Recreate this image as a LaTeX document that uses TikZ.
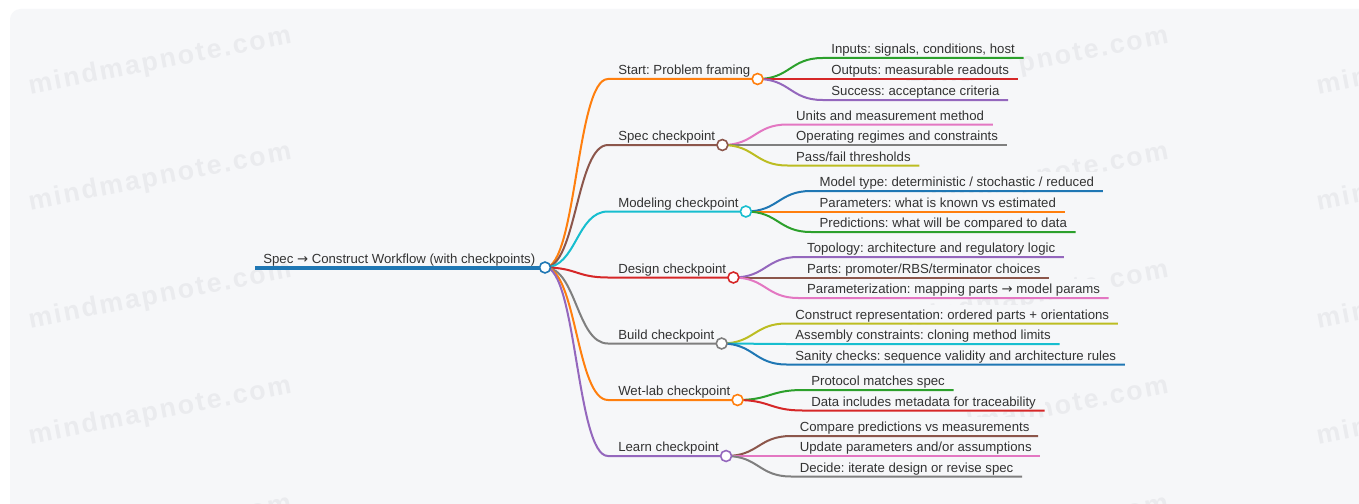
\documentclass[tikz,border=0pt]{standalone}
\usepackage{fontspec}
\setmainfont{Liberation Sans}
\newfontfamily\arrowfont{DejaVu Sans}
\newfontfamily\wmfont[LetterSpace=8]{Liberation Sans Bold}
\usetikzlibrary{calc}
\definecolor{cblue}{HTML}{1F77B4}
\definecolor{corange}{HTML}{FF7F0E}
\definecolor{cgreen}{HTML}{2CA02C}
\definecolor{cred}{HTML}{D62728}
\definecolor{cpurple}{HTML}{9467BD}
\definecolor{cbrown}{HTML}{8C564B}
\definecolor{cpink}{HTML}{E377C2}
\definecolor{cgray}{HTML}{7F7F7F}
\definecolor{colive}{HTML}{BCBD22}
\definecolor{ccyan}{HTML}{17BECF}
\definecolor{txt}{HTML}{333333}
\definecolor{bgc}{HTML}{F6F7F9}
\definecolor{wmc}{HTML}{EAEBEE}
\newcommand\RArr{{\arrowfont →}}
\pgfdeclarelayer{wmlayer}
\pgfdeclarelayer{boxlayer}
\pgfsetlayers{wmlayer,boxlayer,main}
\newcommand\LevelOne[4]{%
  \node[lbl] (#1) at (618,#2-4.5) {#4};
  \coordinate (#1-s) at (608,#2);
  \path (#1.east |- #1-s) ++(7,0) coordinate (#1-c);
  \draw[branch,#3] (root-c) .. controls (576.5,267.5) and (576.5,#2) .. (#1-s) -- (#1-c);
}
\newcommand\LevelTwo[5]{%
  \path (#1-c) ++(65,0) coordinate (#2-t);
  \coordinate (#2-s) at (#2-t |- 0,#3);
  \path (#1-c) ++(32.5,0) coordinate (#2-m1);
  \coordinate (#2-m2) at (#2-m1 |- #2-s);
  \path (#2-s) ++(8.5,-4.5) node[lbl] (#2) {#5};
  \path (#2.east |- #2-s) ++(8.5,0) coordinate (#2-e);
  \begin{pgfonlayer}{boxlayer}
    \fill[bgc] (#2-s) ++(0,-19) rectangle (#2-e);
  \end{pgfonlayer}
  \draw[branch,#4] (#1-c) .. controls (#2-m1) and (#2-m2) .. (#2-s) -- (#2-e);
}
\begin{document}
\begin{tikzpicture}[x=0.75pt,y=-0.75pt,
  lbl/.style={anchor=base west,inner sep=0pt,text=txt,font=\fontsize{9.9}{11}\selectfont\frenchspacing},
  branch/.style={line width=1.5pt},
  dotc/.style={circle,fill=white,line width=1.2pt,minimum size=8.2pt,inner sep=0pt},
  wm/.style={text=wmc,rotate=11,font=\wmfont\fontsize{20}{20}\selectfont,inner sep=0pt}]
\useasboundingbox (0,0) rectangle (1359,503);
\begin{pgfonlayer}{wmlayer}
\fill[white] (0,0) rectangle (1359,503);
\fill[bgc,rounded corners=8pt] (10,9) rectangle (1380,530);
\foreach \yy [count=\i] in {62,178,296,412,530}{
  \node[wm] (wmA\i) at (160,\yy) {mindmapnote.com};
  \node[wm] (wmB\i) at (1037,\yy) {mindmapnote.com};
  \node[wm] (wmC\i) at (1448,\yy) {mindmapnote.com};
}
\end{pgfonlayer}
% root
\coordinate (root-l) at (255,267.5);
\coordinate (root-c) at (545,267.5);
\node[lbl] (root) at (263,263) {Spec \RArr{} Construct Workflow (with checkpoints)};
% level one
\LevelOne{start}{79}{corange}{Start: Problem framing}
\LevelOne{spec}{145}{cbrown}{Spec checkpoint}
\LevelOne{model}{211.5}{ccyan}{Modeling checkpoint}
\LevelOne{design}{277.5}{cred}{Design checkpoint}
\LevelOne{build}{343.5}{cgray}{Build checkpoint}
\LevelOne{wet}{400}{corange}{Wet-lab checkpoint}
\LevelOne{learn}{456}{cpurple}{Learn checkpoint}
\draw[cblue,line width=3pt] (root-l) -- (root-c);
% level two
\LevelTwo{start}{s1}{58}{cgreen}{Inputs: signals, conditions, host}
\LevelTwo{start}{s2}{79}{cred}{Outputs: measurable readouts}
\LevelTwo{start}{s3}{100}{cpurple}{Success: acceptance criteria}
\LevelTwo{spec}{p1}{124.5}{cpink}{Units and measurement method}
\LevelTwo{spec}{p2}{145}{cgray}{Operating regimes and constraints}
\LevelTwo{spec}{p3}{165.5}{colive}{Pass/fail thresholds}
\LevelTwo{model}{m1}{191}{cblue}{Model type: deterministic / stochastic / reduced}
\LevelTwo{model}{m2}{211.5}{corange}{Parameters: what is known vs estimated}
\LevelTwo{model}{m3}{232}{cgreen}{Predictions: what will be compared to data}
\LevelTwo{design}{d1}{257}{cpurple}{Topology: architecture and regulatory logic}
\LevelTwo{design}{d2}{277.5}{cbrown}{Parts: promoter/RBS/terminator choices}
\LevelTwo{design}{d3}{298}{cpink}{Parameterization: mapping parts \RArr{} model params}
\LevelTwo{build}{b1}{323.5}{colive}{Construct representation: ordered parts + orientations}
\LevelTwo{build}{b2}{344}{ccyan}{Assembly constraints: cloning method limits}
\LevelTwo{build}{b3}{364.5}{cblue}{Sanity checks: sequence validity and architecture rules}
\LevelTwo{wet}{w1}{390}{cgreen}{Protocol matches spec}
\LevelTwo{wet}{w2}{410.5}{cred}{Data includes metadata for traceability}
\LevelTwo{learn}{l1}{436}{cbrown}{Compare predictions vs measurements}
\LevelTwo{learn}{l2}{456}{cpink}{Update parameters and/or assumptions}
\LevelTwo{learn}{l3}{476.5}{cgray}{Decide: iterate design or revise spec}
% dots
\node[dotc,draw=cblue] (root-dot) at (root-c) {};
\foreach \n/\c in {start/corange,spec/cbrown,model/ccyan,design/cred,build/cgray,wet/corange,learn/cpurple}
  \node[dotc,draw=\c] (\n-dot) at (\n-c) {};
\end{tikzpicture}
\end{document}
